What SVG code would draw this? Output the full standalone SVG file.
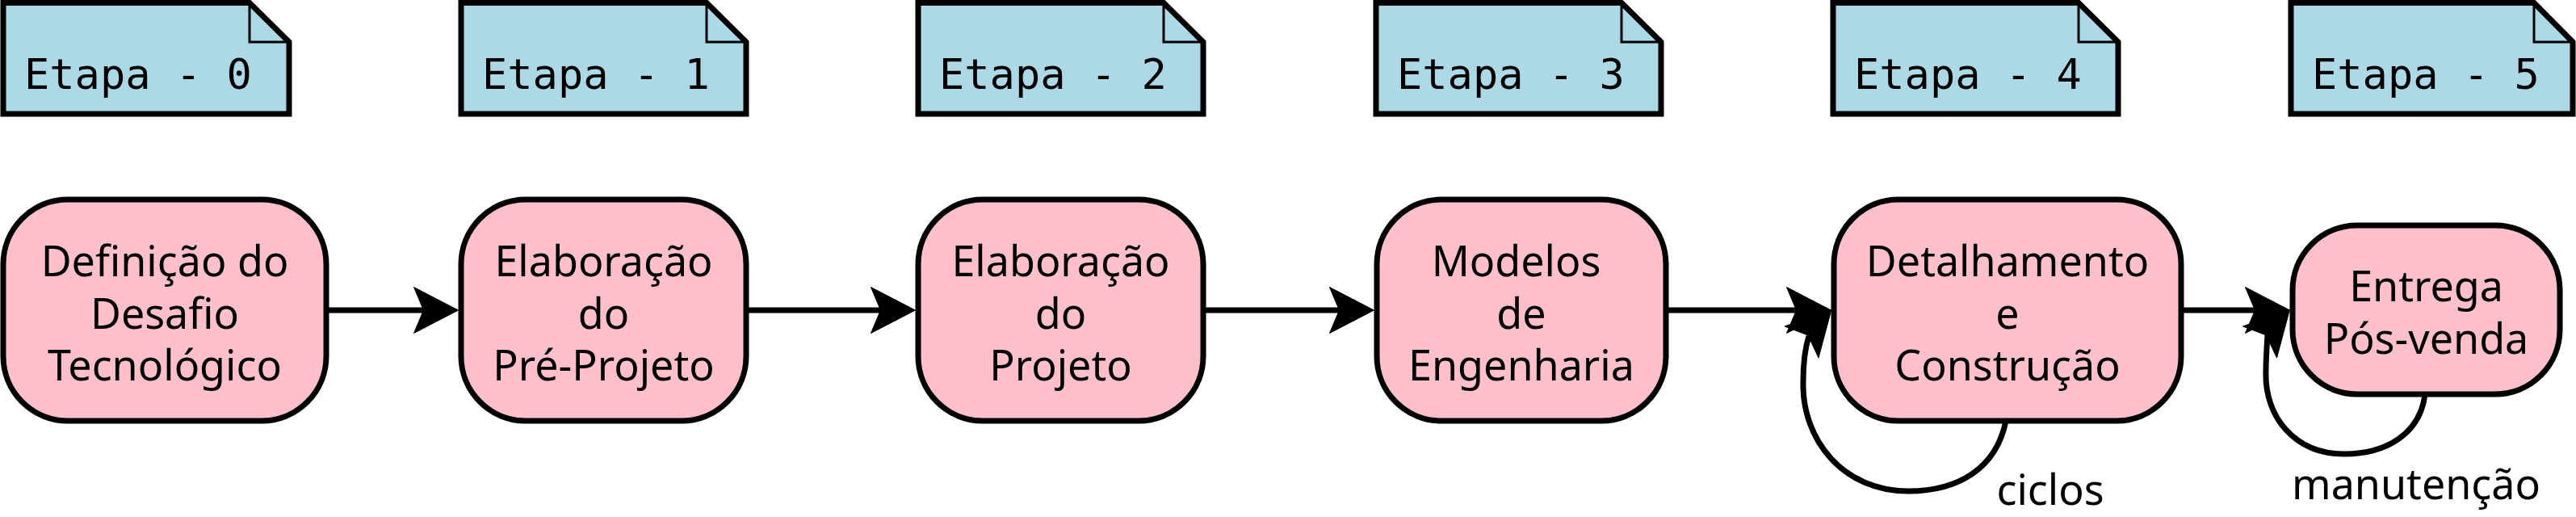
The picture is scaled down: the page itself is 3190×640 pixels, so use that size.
<svg xmlns="http://www.w3.org/2000/svg" width="3190" height="640" viewBox="0 0 3190 640">
<style>
.note{fill:#ADD8E6;stroke:#000;stroke-width:7;stroke-linejoin:miter}
.fold{fill:none;stroke:#000;stroke-width:3}
.mono{font-family:"DejaVu Sans Mono","Liberation Mono",monospace;font-size:52px;fill:#000}
.box{fill:#FFC0CB;stroke:#000;stroke-width:7}
.lbl{font-family:"Noto Sans","Open Sans","DejaVu Sans",sans-serif;font-size:52px;fill:#000;text-anchor:middle}
.edge{fill:none;stroke:#000;stroke-width:7}
.head{fill:#000;stroke:#000;stroke-width:1}
</style>
<g id="etapa0"><path class="note" d="M4,3.5 H309 L358,52 V141 H4 Z"/><path class="fold" d="M309,3.5 V52 H358"/><text class="mono" x="30" y="110">Etapa - 0</text></g>
<g id="etapa1"><path class="note" d="M571,3.5 H875 L924,52 V141 H571 Z"/><path class="fold" d="M875,3.5 V52 H924"/><text class="mono" x="597" y="110">Etapa - 1</text></g>
<g id="etapa2"><path class="note" d="M1137,3.5 H1441 L1490,52 V141 H1137 Z"/><path class="fold" d="M1441,3.5 V52 H1490"/><text class="mono" x="1163" y="110">Etapa - 2</text></g>
<g id="etapa3"><path class="note" d="M1704,3.5 H2008 L2057,52 V141 H1704 Z"/><path class="fold" d="M2008,3.5 V52 H2057"/><text class="mono" x="1730" y="110">Etapa - 3</text></g>
<g id="etapa4"><path class="note" d="M2270,3.5 H2574 L2623,52 V141 H2270 Z"/><path class="fold" d="M2574,3.5 V52 H2623"/><text class="mono" x="2296" y="110">Etapa - 4</text></g>
<g id="etapa5"><path class="note" d="M2837,3.5 H3138 L3186,52 V141 H2837 Z"/><path class="fold" d="M3138,3.5 V52 H3186"/><text class="mono" x="2863" y="110">Etapa - 5</text></g>

<g id="connectors">
<path class="edge" d="M404,384 H530"/>
<polygon class="head" points="567.5,384 512.5,355.5 524.5,384 512.5,412.5"/>
<path class="edge" d="M924,384 H1096"/>
<polygon class="head" points="1133.5,384 1078.5,355.5 1090.5,384 1078.5,412.5"/>
<path class="edge" d="M1490,384 H1664"/>
<polygon class="head" points="1701.5,384 1646.5,355.5 1658.5,384 1646.5,412.5"/>
<path class="edge" d="M2063,384 H2230"/>
<polygon class="head" points="2267.5,384 2212.5,355.5 2224.5,384 2212.5,412.5"/>
<path class="edge" d="M2701,384 H2798"/>
<polygon class="head" points="2835.5,384 2780.5,355.5 2792.5,384 2780.5,412.5"/>
<path class="edge" d="M2484,521 C2472,580 2425,608 2363,608 C2283,608 2231,545 2233,472 C2233,450 2235,432 2240,416"/>
<polygon class="head" points="2268,383 2210,404 2239,415 2252,443"/>
<path class="edge" d="M3003,488 C2997,537 2955,562 2903,562 C2841,562 2804,515 2806,460 C2806,445 2807,430 2808,415"/>
<polygon class="head" points="2835.5,383 2777.5,404 2806.5,415 2819.5,443"/>
<text class="lbl" x="2539" y="625">ciclos</text>
<text class="lbl" x="2992" y="618">manutenção</text>
</g>

<g id="n1"><rect class="box" x="4" y="247" width="400" height="274" rx="80" ry="80"/><text class="lbl" x="204" y="342">Definição do</text><text class="lbl" x="204" y="407">Desafio</text><text class="lbl" x="204" y="471">Tecnológico</text></g>
<g id="n2"><rect class="box" x="571" y="247" width="353" height="274" rx="80" ry="80"/><text class="lbl" x="747.5" y="342">Elaboração</text><text class="lbl" x="747.5" y="407">do</text><text class="lbl" x="747.5" y="471">Pré-Projeto</text></g>
<g id="n3"><rect class="box" x="1137" y="247" width="353" height="274" rx="80" ry="80"/><text class="lbl" x="1313.5" y="342">Elaboração</text><text class="lbl" x="1313.5" y="407">do</text><text class="lbl" x="1313.5" y="471">Projeto</text></g>
<g id="n4"><rect class="box" x="1705" y="247" width="358" height="274" rx="80" ry="80"/><text class="lbl" x="1877.5" y="342">Modelos</text><text class="lbl" x="1884" y="407">de</text><text class="lbl" x="1884" y="471">Engenharia</text></g>
<g id="n5"><rect class="box" x="2271" y="247" width="430" height="274" rx="80" ry="80"/><text class="lbl" x="2486" y="342">Detalhamento</text><text class="lbl" x="2486" y="407">e</text><text class="lbl" x="2486" y="471">Construção</text></g>
<g id="n6"><rect class="box" x="2839" y="279" width="331" height="209" rx="80" ry="80"/><text class="lbl" x="3004.5" y="373">Entrega</text><text class="lbl" x="3004.5" y="438">Pós-venda</text></g>
</svg>
